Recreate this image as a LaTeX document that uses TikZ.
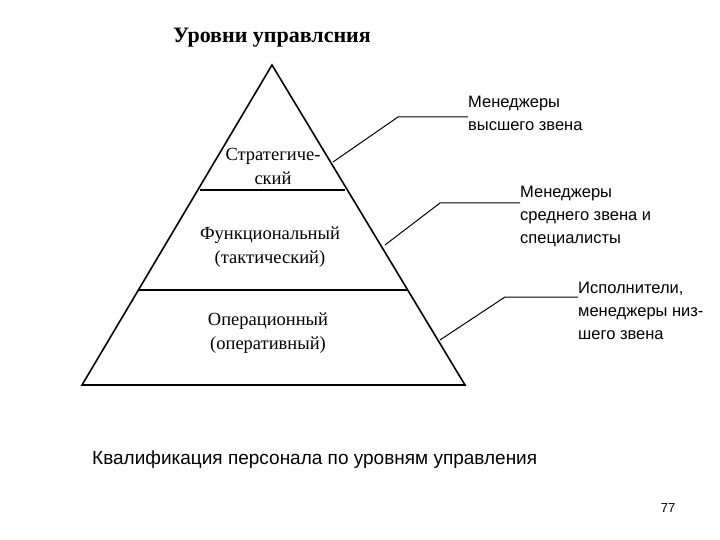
\documentclass[tikz,border=0pt]{standalone}
\usepackage{fontspec}
\setmainfont{Liberation Serif}
\newfontfamily\capfont{Liberation Sans}
\begin{document}
\begin{tikzpicture}[x=1pt,y=-1pt,
  lbl/.style={font=\fontsize{18.5}{24}\selectfont, align=center, inner sep=0},
  side/.style={font=\capfont\fontsize{16.5}{23}\selectfont, align=left, anchor=north west, inner sep=0},
  ln/.style={line width=1.6pt}]
\useasboundingbox (0,0) rectangle (720,540);
\node[font=\bfseries\fontsize{22}{24}\selectfont] (title) at (272,38) {Уровни управлсния};
\coordinate (apex) at (272,65);
\coordinate (bl) at (82,385);
\coordinate (br) at (465,385);
\draw[ln] (apex) -- (br) -- (bl) -- cycle;
\coordinate (l1a) at (200,190); \coordinate (l1b) at (345,190);
\coordinate (l2a) at (138,290); \coordinate (l2b) at (407,290);
\draw[ln] (l1a) -- (l1b);
\draw[ln] (l2a) -- (l2b);
\node[lbl] (s) at (273,166) {Стратегиче-\\ский};
\node[lbl] (f) at (270,247) {Функциональный\\(тактический)};
\node[lbl] (o) at (268,333) {Операционный\\(оперативный)};
\node[side] (t1) at (468,96) {Менеджеры\\высшего звена};
\node[side] (t2) at (520,186) {Менеджеры\\среднего звена и\\специалисты};
\node[side] (t3) at (578,282) {Исполнители,\\менеджеры низ-\\шего звена};
\coordinate (a1) at (333,162); \coordinate (b1) at (398,117); \coordinate (c1) at (468,117);
\coordinate (a2) at (385,245); \coordinate (b2) at (440,203); \coordinate (c2) at (520,203);
\coordinate (a3) at (440,340); \coordinate (b3) at (505,297); \coordinate (c3) at (578,297);
\draw[line width=1pt] (a1) -- (b1) -- (c1);
\draw[line width=1pt] (a2) -- (b2) -- (c2);
\draw[line width=1pt] (a3) -- (b3) -- (c3);
\node[font=\capfont\fontsize{19}{22}\selectfont, anchor=west, inner sep=0] (cap) at (92,460) {Квалификация персонала по уровням управления};
\node[font=\capfont\fontsize{13}{14}\selectfont] (pg) at (668,508) {77};
\end{tikzpicture}
\end{document}
